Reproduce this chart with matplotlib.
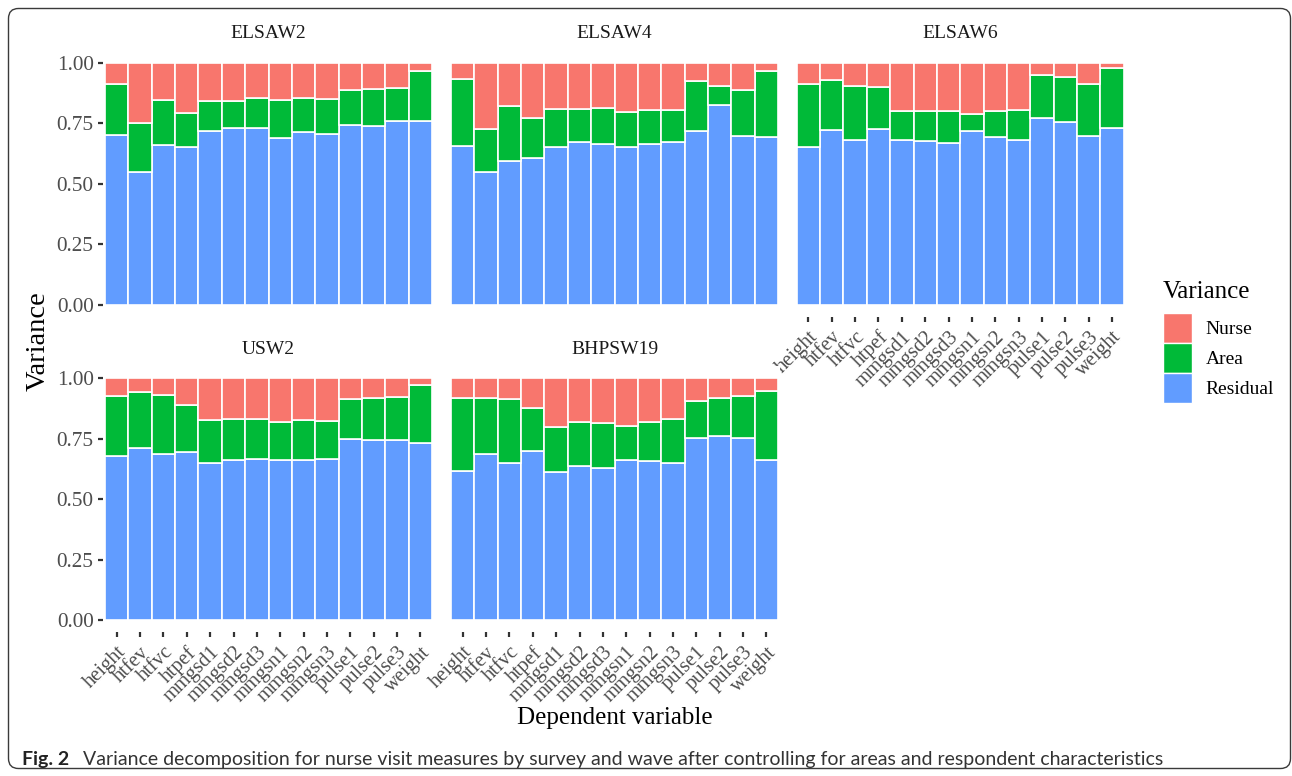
import matplotlib
matplotlib.use("Agg")
import matplotlib.pyplot as plt
from matplotlib.patches import Patch, FancyBboxPatch
import numpy as np

# variable names on the x axis
variables = ['height', 'htfev', 'htfvc', 'htpef', 'mmgsd1', 'mmgsd2', 'mmgsd3',
             'mmgsn1', 'mmgsn2', 'mmgsn3', 'pulse1', 'pulse2', 'pulse3', 'weight']

panels = ['ELSAW2', 'ELSAW4', 'ELSAW6', 'USW2', 'BHPSW19']

# variance shares (residual / area / nurse)
elsaw2_residual = [0.701, 0.550, 0.662, 0.653, 0.719, 0.733, 0.732, 0.689, 0.715, 0.707, 0.744, 0.740, 0.761, 0.761]
elsaw2_area = [0.213, 0.204, 0.186, 0.140, 0.125, 0.109, 0.124, 0.157, 0.141, 0.144, 0.145, 0.151, 0.135, 0.207]
elsaw2_nurse = [0.086, 0.246, 0.152, 0.207, 0.156, 0.158, 0.144, 0.154, 0.144, 0.149, 0.111, 0.109, 0.104, 0.032]

elsaw4_residual = [0.658, 0.548, 0.595, 0.607, 0.651, 0.674, 0.665, 0.654, 0.665, 0.675, 0.719, 0.826, 0.697, 0.693]
elsaw4_area = [0.274, 0.179, 0.229, 0.166, 0.158, 0.135, 0.147, 0.144, 0.139, 0.129, 0.206, 0.079, 0.190, 0.272]
elsaw4_nurse = [0.068, 0.273, 0.176, 0.227, 0.191, 0.191, 0.188, 0.202, 0.196, 0.196, 0.075, 0.095, 0.113, 0.035]

elsaw6_residual = [0.651, 0.722, 0.683, 0.729, 0.682, 0.676, 0.669, 0.719, 0.694, 0.683, 0.773, 0.757, 0.697, 0.733]
elsaw6_area = [0.263, 0.209, 0.224, 0.173, 0.120, 0.126, 0.132, 0.072, 0.107, 0.121, 0.179, 0.185, 0.217, 0.246]
elsaw6_nurse = [0.086, 0.069, 0.093, 0.098, 0.198, 0.198, 0.199, 0.209, 0.199, 0.196, 0.048, 0.058, 0.086, 0.021]

usw2_residual = [0.679, 0.712, 0.686, 0.697, 0.650, 0.663, 0.668, 0.663, 0.663, 0.668, 0.749, 0.744, 0.747, 0.731]
usw2_area = [0.249, 0.230, 0.245, 0.191, 0.176, 0.169, 0.164, 0.155, 0.163, 0.157, 0.167, 0.175, 0.176, 0.240]
usw2_nurse = [0.072, 0.058, 0.069, 0.112, 0.174, 0.168, 0.168, 0.182, 0.174, 0.175, 0.084, 0.081, 0.077, 0.029]

bhps_residual = [0.617, 0.687, 0.650, 0.701, 0.612, 0.639, 0.628, 0.661, 0.657, 0.649, 0.755, 0.762, 0.755, 0.664]
bhps_area = [0.302, 0.230, 0.265, 0.175, 0.187, 0.181, 0.188, 0.142, 0.163, 0.183, 0.151, 0.155, 0.171, 0.284]
bhps_nurse = [0.081, 0.083, 0.085, 0.124, 0.201, 0.180, 0.184, 0.197, 0.180, 0.168, 0.094, 0.083, 0.074, 0.052]

data = {
    'ELSAW2': (elsaw2_residual, elsaw2_area, elsaw2_nurse),
    'ELSAW4': (elsaw4_residual, elsaw4_area, elsaw4_nurse),
    'ELSAW6': (elsaw6_residual, elsaw6_area, elsaw6_nurse),
    'USW2': (usw2_residual, usw2_area, usw2_nurse),
    'BHPSW19': (bhps_residual, bhps_area, bhps_nurse),
}

col_nurse = '#F8766D'
col_area = '#00BA38'
col_resid = '#619CFF'

serif = 'Liberation Serif'
cap_font = 'Lato'

W, H = 1292, 776
fig = plt.figure(figsize=(W / 100, H / 100), dpi=100)

# frame around the whole figure
bg = fig.add_axes([0, 0, 1, 1])
bg.set_xlim(0, W)
bg.set_ylim(H, 0)
bg.axis('off')
bg.add_patch(FancyBboxPatch((8.5, 8.5), W - 10, H - 16, boxstyle='round,pad=0,rounding_size=10',
                            fill=False, edgecolor='#3a3a3a', linewidth=1.0))

# panel geometry in pixels
col_left = [102.7, 448.7, 794.4]
panel_w = 331.7
row_top = [50.9, 366.2]
panel_h = [266.2, 266.2]

positions = {'ELSAW2': (0, 0), 'ELSAW4': (0, 1), 'ELSAW6': (0, 2),
             'USW2': (1, 0), 'BHPSW19': (1, 1)}

x = np.arange(len(variables))
for name in panels:
    r, c = positions[name]
    left = col_left[c] / W
    bottom = 1 - (row_top[r] + panel_h[r]) / H
    ax = fig.add_axes([left, bottom, panel_w / W, panel_h[r] / H])
    resid, area, nurse = data[name]
    resid = np.array(resid)
    area = np.array(area)
    ax.bar(x, resid, width=1.0, color=col_resid, edgecolor='white', linewidth=1.2)
    ax.bar(x, area, width=1.0, bottom=resid, color=col_area, edgecolor='white', linewidth=1.2)
    ax.bar(x, nurse, width=1.0, bottom=resid + area, color=col_nurse, edgecolor='white', linewidth=1.2)
    ax.set_xlim(-0.6, len(variables) - 0.4)
    ax.set_ylim(-0.05, 1.05)
    for s in ax.spines.values():
        s.set_visible(False)
    ax.set_title(name, fontsize=14, family=serif, color='#1A1A1A', pad=9)

    ax.set_yticks([0, 0.25, 0.5, 0.75, 1.0])
    if c == 0:
        ax.set_yticklabels(['0.00', '0.25', '0.50', '0.75', '1.00'], family=serif, fontsize=15.3, color='#4D4D4D')
        ax.tick_params(axis='y', length=3.5, width=1.6, color='#333333', pad=3)
    else:
        ax.tick_params(axis='y', length=0, labelleft=False)

    ax.set_xticks(x)
    if r == 1 or name == 'ELSAW6':
        ax.set_xticklabels(variables, rotation=45, ha='right', va='top', rotation_mode='anchor',
                           family=serif, fontsize=14.8, color='#4D4D4D')
        ax.tick_params(axis='x', length=3.5, width=1.6, color='#333333', pad=4)
    else:
        ax.tick_params(axis='x', length=0, labelbottom=False)

fig.text(38 / W, 1 - 341 / H, 'Variance', rotation=90, ha='center', va='center',
         family=serif, fontsize=20.5)
fig.text(615 / W, 1 - 718 / H, 'Dependent variable', ha='center', va='center',
         family=serif, fontsize=18)

handles = [Patch(facecolor=col_nurse, edgecolor='white', label='Nurse'),
           Patch(facecolor=col_area, edgecolor='white', label='Area'),
           Patch(facecolor=col_resid, edgecolor='white', label='Residual')]
leg = fig.legend(handles=handles, title='Variance', loc='upper left',
                 bbox_to_anchor=(1163 / W, 1 - 281 / H), frameon=False,
                 prop={'family': serif, 'size': 14},
                 handlelength=1.5, handleheight=2.0, labelspacing=0.0,
                 handletextpad=0.7, borderpad=0, borderaxespad=0)
leg.get_title().set_fontfamily(serif)
leg.get_title().set_fontsize(18)
leg._legend_box.align = 'left'
leg._legend_box.sep = 7

# caption
fig.text(22 / W, 1 - 759 / H, 'Fig. 2', ha='left', va='center', family=cap_font,
         fontsize=14.0, fontweight='bold', color='#222222')
fig.text(83 / W, 1 - 759 / H,
         'Variance decomposition for nurse visit measures by survey and wave after controlling for areas and respondent characteristics',
         ha='left', va='center', family=cap_font, fontsize=14.0, color='#333333')

fig.savefig('out.png', dpi=100)
